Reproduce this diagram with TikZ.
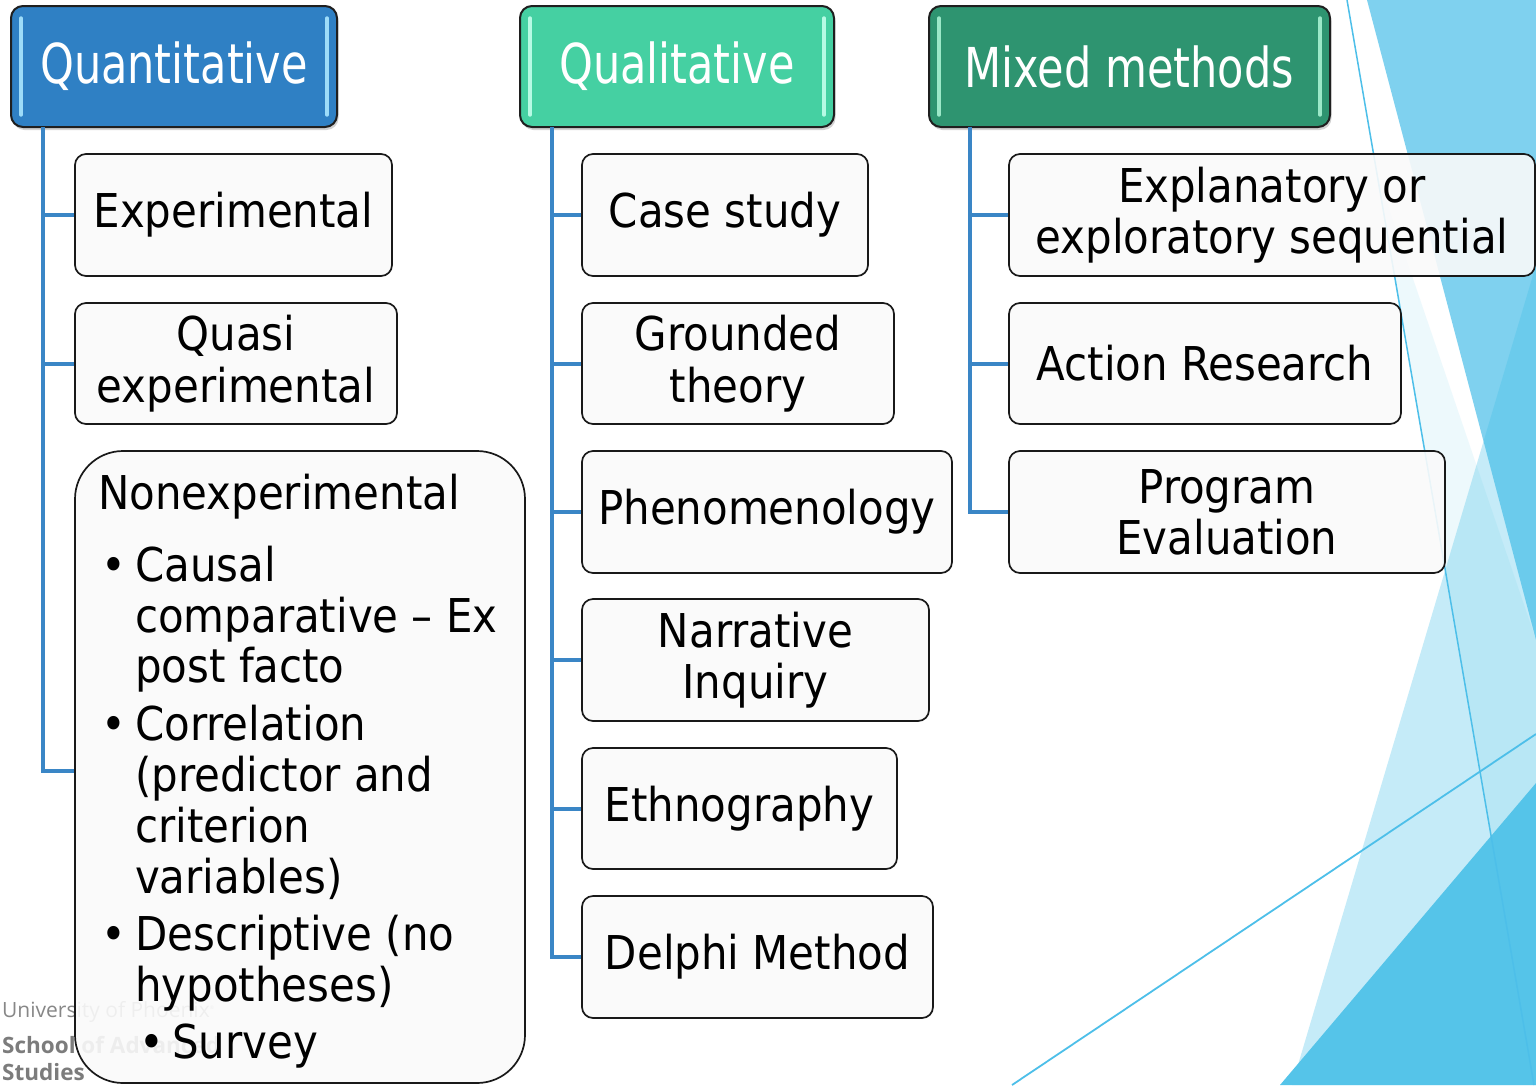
\documentclass[tikz,border=0pt]{standalone}
\usepackage{fontspec}
\usepackage{graphicx}
\setmainfont{DejaVu Sans Condensed}
\newfontfamily\wmfont{Open Sans}
\usetikzlibrary{shadows}

\definecolor{quantfill}{HTML}{2F80C4}
\definecolor{qualfill}{HTML}{45D0A2}
\definecolor{mixfill}{HTML}{2E9470}
\definecolor{quantbar}{HTML}{A9E6FF}
\definecolor{qualbar}{HTML}{C4FFEC}
\definecolor{mixbar}{HTML}{A8F2D2}
\definecolor{trunkblue}{HTML}{3A86C6}
\definecolor{boxfill}{HTML}{FAFAFA}
\definecolor{facetmed}{HTML}{7FD1EF}
\definecolor{facetbase}{HTML}{3FBFE8}
\definecolor{facetdark}{HTML}{55C4E9}
\definecolor{facetline}{HTML}{4DBFE9}
\definecolor{wmgrey}{HTML}{878787}

\newcommand{\bodyfont}{\fontsize{46.6}{51.3}\selectfont}
\newcommand{\hdrfont}{\fontsize{55}{60}\selectfont}
\newcommand{\hdrtext}[1]{\scalebox{0.87}[1]{#1}}

\begin{document}
\begin{tikzpicture}[x=1pt,y=-1pt,
  hdr/.style={draw=black!88, line width=2pt, rounded corners=12pt,
    inner sep=0pt, text=white, font=\hdrfont,
    drop shadow={opacity=0.35, shadow xshift=1.5pt, shadow yshift=-3pt}},
  hbar/.style={line width=3.4pt, line cap=round, opacity=0.9},
  box/.style={draw=black!90, line width=1.7pt, rounded corners=11pt,
    fill=boxfill, fill opacity=0.9, text opacity=1, inner sep=0pt,
    align=center, font=\bodyfont},
  conn/.style={draw=trunkblue, line width=4pt},
  btxt/.style={anchor=base west, inner sep=0pt, font=\bodyfont},
  wm/.style={anchor=base west, inner sep=0pt, text=wmgrey},
]
\useasboundingbox (0,0) rectangle (1536,1085);
\fill[white] (0,0) rectangle (1536,1085);

% facet decoration on the right edge
\begin{scope}
  \clip (0,0) rectangle (1536,1085);
  \fill[facetmed] (1367,0) -- (1536,0) -- (1536,640) -- cycle;
  \fill[facetbase, opacity=0.09] (1376,170) -- (1536,640) -- (1536,1085) -- (1534,1085) -- cycle;
  \fill[facetbase, opacity=0.30] (1536,265) -- (1536,1085) -- (1292,1085) -- cycle;
  \fill[facetdark] (1280,1085) -- (1536,783) -- (1536,1085) -- cycle;
  \draw[facetline, line width=1.5pt] (1347,0) -- (1534,1085);
  \draw[facetline, line width=1.8pt] (1012,1085) -- (1536,734);
\end{scope}

% school mark in the lower left corner
\node[wm, font=\wmfont\fontsize{21}{24}\selectfont] (wm1) at (2,1017) {University of Phoenix\textsuperscript{\tiny ®}};
\node[wm, font=\wmfont\bfseries\fontsize{22.5}{25}\selectfont, text=wmgrey!92!black] (wm2) at (2,1053) {School of Advanced};
\node[wm, font=\wmfont\bfseries\fontsize{22.5}{25}\selectfont, text=wmgrey!92!black] (wm3) at (2,1080) {Studies};

% column headers
\node[hdr, fill=quantfill, minimum width=326pt, minimum height=121pt] (qn) at (174,66.5) {\hdrtext{Quantitative}};
\node[hdr, fill=qualfill, minimum width=314pt, minimum height=121pt] (ql) at (677,66.5) {\hdrtext{Qualitative}};
\node[hdr, fill=mixfill, minimum width=401pt, minimum height=121pt] (mx) at (1129.5,66.5) {\hdrtext{Mixed methods}};

% light edges inside the headers
\foreach \h/\c in {qn/quantbar, ql/qualbar, mx/mixbar}{
  \draw[hbar, draw=\c] ([xshift=11pt,yshift=-13pt]\h.north west) -- ([xshift=11pt,yshift=13pt]\h.south west);
  \draw[hbar, draw=\c] ([xshift=-11pt,yshift=-13pt]\h.north east) -- ([xshift=-11pt,yshift=13pt]\h.south east);
}

% trunk start points below the headers
\coordinate (qnt) at (43,127);
\coordinate (qlt) at (551.5,127);
\coordinate (mxt) at (970,127);

% quantitative branch
\node[box, minimum width=317pt, minimum height=122pt] (exp) at (233.5,215) {Experimental};
\node[box, minimum width=322pt, minimum height=121pt] (quasi) at (236,363.5) {Quasi\\experimental};
\node[box, rounded corners=48pt, minimum width=450pt, minimum height=632pt] (nonexp) at (300,767) {};

\node[btxt] (nt0) at (98,509) {Nonexperimental};
\node[btxt] (b1) at (101,581) {•};
\node[btxt] (nt1) at (135,581) {Causal};
\node[btxt] (nt2) at (135,632) {comparative – Ex};
\node[btxt] (nt3) at (135,682) {post facto};
\node[btxt] (b2) at (101,740) {•};
\node[btxt] (nt4) at (135,740) {Correlation};
\node[btxt] (nt5) at (135,791) {(predictor and};
\node[btxt] (nt6) at (135,842) {criterion};
\node[btxt] (nt7) at (135,893) {variables)};
\node[btxt] (b3) at (101,950) {•};
\node[btxt] (nt8) at (135,950) {Descriptive (no};
\node[btxt] (nt9) at (135,1001) {hypotheses)};
\node[btxt] (b4) at (139,1058) {•};
\node[btxt] (nt10) at (172,1058) {Survey};

% qualitative branch
\node[box, minimum width=286pt, minimum height=122pt] (case) at (725,215) {Case study};
\node[box, minimum width=312pt, minimum height=121pt] (ground) at (738,363.5) {Grounded\\theory};
\node[box, minimum width=370pt, minimum height=122pt] (phen) at (767,512) {Phenomenology};
\node[box, minimum width=347pt, minimum height=122pt] (narr) at (755.5,660) {Narrative\\Inquiry};
\node[box, minimum width=315pt, minimum height=121pt] (ethno) at (739.5,808.5) {Ethnography};
\node[box, minimum width=351pt, minimum height=122pt] (delphi) at (757.5,957) {Delphi Method};

% mixed methods branch
\node[box, minimum width=526pt, minimum height=122pt] (expl) at (1272,215) {Explanatory or\\exploratory sequential};
\node[box, minimum width=392pt, minimum height=121pt] (action) at (1205,363.5) {Action Research};
\node[box, minimum width=436pt, minimum height=122pt] (prog) at (1227,512) {Program\\Evaluation};

% connectors from each trunk to its boxes
\draw[conn] (qnt) |- (exp.west);
\draw[conn] (qnt) |- (quasi.west);
\draw[conn] (qnt) |- ([yshift=-4pt]nonexp.west);
\foreach \n in {case,ground,phen,narr,ethno,delphi}{
  \draw[conn] (qlt) |- (\n.west);
}
\foreach \n in {expl,action,prog}{
  \draw[conn] (mxt) |- (\n.west);
}
\end{tikzpicture}
\end{document}
